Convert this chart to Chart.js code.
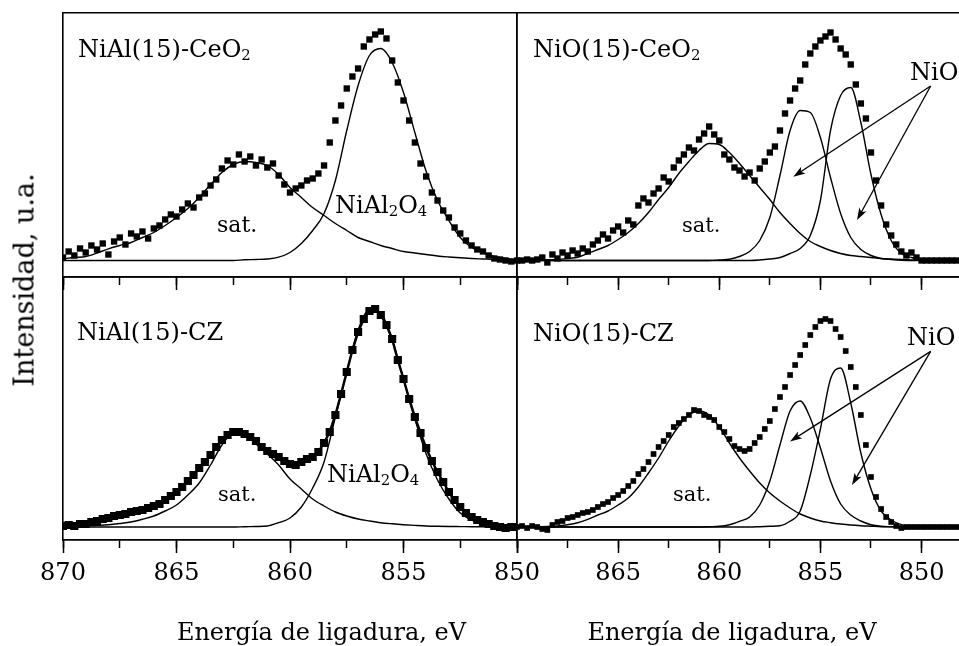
<!DOCTYPE html>
<html>
<head>
<meta charset="utf-8">
<script src="https://cdn.jsdelivr.net/npm/chart.js@4.4.0/dist/chart.umd.min.js"></script>
<style>
  html, body { margin: 0; padding: 0; background: #fff; overflow: hidden; }
  #wrap { position: relative; width: 959px; height: 646px; overflow: hidden;
          font-family: "DejaVu Serif", serif; color: #000; }
  #wrap canvas { position: absolute; left: 0; top: 0; }
  .lbl { position: absolute; white-space: nowrap; line-height: 1; }
  .lbl sub { font-size: 0.62em; vertical-align: baseline; position: relative; top: 0.22em; }
</style>
</head>
<body>
<div id="wrap">
  <canvas id="tl" width="959" height="646"></canvas>
  <canvas id="tr" width="975" height="646"></canvas>
  <canvas id="bl" width="959" height="646"></canvas>
  <canvas id="br" width="975" height="646"></canvas>
</div>
<script>
// ===== DATA =====
// binding energy grid of the measured spectra (eV), 0.25 eV steps
const energy = [
  870, 869.75, 869.5, 869.25, 869, 868.75, 868.5, 868.25, 868, 867.75,
  867.5, 867.25, 867, 866.75, 866.5, 866.25, 866, 865.75, 865.5, 865.25,
  865, 864.75, 864.5, 864.25, 864, 863.75, 863.5, 863.25, 863, 862.75,
  862.5, 862.25, 862, 861.75, 861.5, 861.25, 861, 860.75, 860.5, 860.25,
  860, 859.75, 859.5, 859.25, 859, 858.75, 858.5, 858.25, 858, 857.75,
  857.5, 857.25, 857, 856.75, 856.5, 856.25, 856, 855.75, 855.5, 855.25,
  855, 854.75, 854.5, 854.25, 854, 853.75, 853.5, 853.25, 853, 852.75,
  852.5, 852.25, 852, 851.75, 851.5, 851.25, 851, 850.75, 850.5, 850.25,
  850, 849.75, 849.5, 849.25, 849, 848.75, 848.5, 848.25, 848
];

// energy grid of the fitted components (eV), 0.5 eV steps
const fitEnergy = [
  870, 869.5, 869, 868.5, 868, 867.5, 867, 866.5, 866, 865.5,
  865, 864.5, 864, 863.5, 863, 862.5, 862, 861.5, 861, 860.5,
  860, 859.5, 859, 858.5, 858, 857.5, 857, 856.5, 856, 855.5,
  855, 854.5, 854, 853.5, 853, 852.5, 852, 851.5, 851, 850.5,
  850, 849.5, 849, 848.5, 848
];

// NiAl(15)-CeO2 (top left)
const niAlCeO2Counts = [
  3, 9, 5, 12, 8, 15, 11, 17, 6, 19,
  23, 16, 27, 24, 29, 22, 32, 35, 41, 46,
  44, 51, 57, 53, 63, 67, 75, 81, 92, 100,
  96, 106, 99, 104, 95, 101, 93, 97, 85, 76,
  68, 72, 75, 80, 82, 87, 95, 118, 140, 155,
  172, 184, 192, 214, 221, 226, 229, 222, 200, 178,
  160, 140, 118, 97, 84, 68, 60, 50, 43, 33,
  27, 20, 15, 11, 9, 5, 2, 1, 0, -1,
  0
];
const niAlCeO2Sat = [
  1.7, 3, 4, 7.5, 11.7, 15, 18, 23, 28, 35,
  43, 52, 63, 76, 88, 96, 99, 98, 95, 86,
  73, 63, 53, 45, 37, 30, 23, 19, 15, 12,
  9, 7.5, 6, 4.5, 3.5, 2.7, 2, 1.5, 1, 0.7,
  0.5
];
const niAlCeO2Spinel = [
  0, 0, 0, 0, 0, 0, 0, 0, 0, 0,
  0, 0, 0, 0, 0, 0, 0.7, 1, 1.5, 3.3,
  8, 17, 30, 47, 80, 130, 175, 205, 212, 198,
  168, 128, 89, 60, 40, 23, 13, 8, 4, 2,
  0.7
];

// NiO(15)-CeO2 (top right)
const niOCeO2Counts = [
  0, 0, 1, 0, 1, 3, -2, 6, 2, 8,
  5, 10, 7, 12, 9, 16, 20, 26, 22, 30,
  34, 28, 40, 36, 55, 62, 58, 67, 72, 83,
  79, 93, 100, 106, 113, 110, 121, 127, 134, 126,
  120, 106, 101, 93, 90, 84, 88, 80, 92, 99,
  108, 114, 130, 147, 160, 172, 180, 196, 207, 214,
  220, 224, 228, 221, 212, 206, 196, 176, 157, 142,
  108, 80, 55, 36, 25, 16, 9, 5, 8, 3,
  0, 0, 0, 0, 0, 0, 0, 0, 0
];
const niOCeO2Sat = [
  0.3, 0.4, 0.5, 0.7, 1, 2, 3.3, 7, 11, 15,
  21, 28, 37, 48, 61, 73, 87, 99, 110, 117,
  116, 108, 97, 85, 73, 61, 48, 37, 27, 19,
  14, 10, 7, 5, 4, 3, 2, 1.5, 1, 0.6,
  0.3, 0.2, 0.1, 0, 0
];
const niOCeO2PeakA = [
  0, 0, 0, 0, 0, 0, 0, 0, 0, 0,
  0, 0, 0, 0, 0, 0, 0, 0, 0, 0,
  0.5, 1.3, 4, 9, 20, 43, 85, 130, 150, 148,
  123, 83, 47, 23, 11, 5, 2, 1, 0.3, 0,
  0, 0, 0, 0, 0
];
const niOCeO2PeakB = [
  0, 0, 0, 0, 0, 0, 0, 0, 0, 0,
  0, 0, 0, 0, 0, 0, 0, 0, 0, 0,
  0, 0, 0, 0, 0.5, 1.5, 3, 7, 12, 25,
  60, 130, 165, 173, 138, 86, 46, 20, 7, 3,
  0.7, 0.2, 0, 0, 0
];

// NiAl(15)-CZ (bottom left)
const niAlCZCounts = [
  1, 2, 1, 3, 3, 5, 6, 8, 9, 11,
  12, 13, 15, 16, 17, 19, 21, 23, 27, 31,
  35, 40, 46, 52, 59, 65, 72, 80, 87, 92,
  95, 95, 93, 90, 86, 80, 76, 73, 70, 66,
  63, 62, 65, 68, 70, 75, 84, 95, 112, 133,
  155, 177, 195, 208, 216, 218, 212, 202, 188, 167,
  148, 128, 110, 94, 79, 66, 55, 45, 35, 27,
  20, 14, 10, 7, 5, 3, 1, 0, -1, 0,
  0
];
const niAlCZSat = [
  0.5, 0.8, 1, 1.6, 2.3, 3.5, 5, 7.7, 11, 16,
  22, 32, 44, 62, 82, 93, 92, 83, 73, 62,
  48, 38, 28, 21, 15, 11, 8, 6, 4.3, 3.2,
  2.3, 1.6, 1, 0.7, 0.5, 0.4, 0.3, 0.2, 0.1, 0,
  0
];
const niAlCZSpinel = [
  0, 0, 0, 0, 0, 0, 0, 0, 0, 0,
  0, 0, 0, 0, 0, 0, 0.3, 0.5, 1, 4.3,
  9, 20, 39, 65, 110, 155, 197, 217, 214, 187,
  148, 108, 73, 47, 28, 14, 7, 3.3, 1.7, 1,
  0.5
];

// NiO(15)-CZ (bottom right)
const niOCZCounts = [
  0, 1, -1, 1, 0, -2, -3, 2, 5, 6,
  9, 10, 12, 14, 15, 17, 20, 23, 25, 29,
  32, 36, 41, 46, 53, 58, 65, 73, 80, 86,
  92, 100, 104, 108, 112, 117, 116, 112, 110, 107,
  100, 95, 88, 81, 78, 76, 78, 84, 90, 98,
  106, 118, 130, 140, 152, 162, 172, 182, 192, 200,
  206, 208, 206, 198, 190, 176, 160, 140, 112, 82,
  50, 30, 18, 10, 5, 1, -1, 0, 0, 0,
  0, 0, 0, 0, 0, 0, 0, 0, 0
];
const niOCZSat = [
  0, 0.2, 0.3, 0.6, 1, 2.3, 4.3, 7.7, 12, 16,
  22, 29, 40, 54, 69, 86, 101, 112, 116, 112,
  100, 84, 69, 56, 44, 34, 26, 19, 13, 9,
  6, 4.3, 3, 2, 1.3, 0.8, 0.3, 0.2, 0.1, 0,
  0, 0, 0, 0, 0
];
const niOCZPeakA = [
  0, 0, 0, 0, 0, 0, 0, 0, 0, 0,
  0, 0, 0, 0, 0, 0, 0, 0, 0, 0.3,
  0.7, 2.3, 5.7, 10, 22, 46, 82, 116, 126, 109,
  79, 46, 23, 12, 6, 2.3, 0.7, 0.3, 0, 0,
  0, 0, 0, 0, 0
];
const niOCZPeakB = [
  0, 0, 0, 0, 0, 0, 0, 0, 0, 0,
  0, 0, 0, 0, 0, 0, 0, 0, 0, 0,
  0, 0, 0, 0, 0.3, 0.7, 1.3, 5.7, 16, 52,
  98, 148, 159, 124, 74, 38, 16, 7, 2.3, 0.7,
  0.2, 0, 0, 0, 0
];

// tick labels shown under each bottom panel
const leftTickLabels = [870, 865, 860, 855, 850];
const rightTickLabels = [865, 860, 855, 850];


// ================= HELPERS =================
const black = "#000";
const serif = '"DejaVu Serif", "Liberation Serif", serif';

function toPoints(xs, ys) {
    return ys.map((y, i) => ({ x: xs[i], y: y }));
}

const fixedHeight = h => scale => { scale.height = h; };
const noWidth = scale => { scale.width = 0; };

// arrows pointing from the "NiO" label to both NiO components
const arrowPlugin = {
    id: "arrows",
    afterDatasetsDraw(chart, args, opts) {
        if (!opts || !opts.from) return;

        const ctx = chart.ctx;
        const xs = chart.scales.x;
        const ys = chart.scales.y;
        const x0 = xs.getPixelForValue(opts.from[0]);
        const y0 = ys.getPixelForValue(opts.from[1]);

        ctx.save();
        ctx.strokeStyle = black;
        ctx.fillStyle = black;
        ctx.lineWidth = 1.3;

        opts.to.forEach(t => {
            const x1 = xs.getPixelForValue(t[0]);
            const y1 = ys.getPixelForValue(t[1]);
            const a = Math.atan2(y1 - y0, x1 - x0);
            const c = Math.cos(a), s = Math.sin(a);

            ctx.beginPath();
            ctx.moveTo(x0, y0);
            ctx.lineTo(x1 - 8 * c, y1 - 8 * s);
            ctx.stroke();

            ctx.beginPath();
            ctx.moveTo(x1, y1);
            ctx.lineTo(x1 - 12 * c + 4 * s, y1 - 12 * s - 4 * c);
            ctx.lineTo(x1 - 9 * c, y1 - 9 * s);
            ctx.lineTo(x1 - 12 * c - 4 * s, y1 - 12 * s + 4 * c);
            ctx.closePath();
            ctx.fill();
        });

        ctx.restore();
    }
};

function renderPanel(id, cfg) {

    const frame = { color: black, width: 1.6 };
    const labelled = cfg.labels.length > 0;
    // the labelled axis keeps a real box so its labels are not clipped away
    const axisBox = labelled ? 60 : 0;

    const datasets = [{
        data: toPoints(energy, cfg.counts),
        pointStyle: "rect",
        pointRadius: cfg.radius,
        backgroundColor: black,
        borderColor: black,
        borderWidth: cfg.chain || 0,
        showLine: !!cfg.chain
    }];

    cfg.fits.forEach(f => {
        datasets.push({
            data: toPoints(fitEnergy, f),
            showLine: true,
            borderColor: black,
            borderWidth: 1.4,
            pointRadius: 0,
            cubicInterpolationMode: "monotone",
            fill: false
        });
    });

    const pad = Object.assign({}, cfg.pad);
    pad.bottom -= axisBox;

    new Chart(document.getElementById(id), {
        type: "scatter",
        data: { datasets: datasets },
        options: {
            responsive: false,
            animation: false,
            events: [],
            layout: { padding: pad },
            plugins: {
                legend: { display: false },
                tooltip: { enabled: false },
                arrows: cfg.arrows || {}
            },
            scales: {
                x: {
                    type: "linear",
                    position: "bottom",
                    weight: 1,
                    reverse: true,
                    min: cfg.xMin,
                    max: 870,
                    afterFit: fixedHeight(axisBox),
                    ticks: {
                        stepSize: 5,
                        includeBounds: false,
                        autoSkip: false,
                        maxRotation: 0,
                        padding: 6,
                        display: labelled,
                        color: black,
                        font: { family: serif, size: 24 },
                        callback: v => cfg.labels.includes(v) ? String(v) : ""
                    },
                    grid: { drawOnChartArea: false, tickLength: 13, tickWidth: 1.5, tickColor: black },
                    border: frame
                },
                xMinor: {
                    type: "linear",
                    position: "bottom",
                    weight: 0,
                    reverse: true,
                    min: cfg.xMin,
                    max: 870,
                    afterFit: fixedHeight(0),
                    ticks: { stepSize: 2.5, includeBounds: false, autoSkip: false, display: false },
                    grid: { drawOnChartArea: false, tickLength: 8, tickWidth: 1.5, tickColor: black },
                    border: frame
                },
                xTop: {
                    type: "linear",
                    position: "top",
                    min: 0,
                    max: 1,
                    afterFit: fixedHeight(0),
                    ticks: { display: false },
                    grid: { display: false },
                    border: frame
                },
                y: {
                    type: "linear",
                    position: "left",
                    min: cfg.yMin,
                    max: cfg.yMax,
                    afterFit: noWidth,
                    ticks: { display: false },
                    grid: { display: false },
                    border: frame
                },
                yRight: {
                    type: "linear",
                    position: "right",
                    min: 0,
                    max: 1,
                    afterFit: noWidth,
                    ticks: { display: false },
                    grid: { display: false },
                    border: frame
                }
            }
        },
        plugins: [arrowPlugin]
    });
}


// ================= PANELS =================
renderPanel("tl", {
    counts: niAlCeO2Counts,
    fits: [niAlCeO2Sat, niAlCeO2Spinel],
    radius: 4.5,
    xMin: 850,
    yMin: -16.5, yMax: 247.5,
    labels: [],
    pad: { left: 63, top: 13, right: 442, bottom: 369 }
});

renderPanel("tr", {
    counts: niOCeO2Counts,
    fits: [niOCeO2Sat, niOCeO2PeakA, niOCeO2PeakB],
    radius: 4.5,
    xMin: 848,
    yMin: -16.5, yMax: 247.5,
    labels: [],
    pad: { left: 517, top: 13, right: 13, bottom: 369 },
    arrows: { from: [849.55, 174.5], to: [[856.34, 83.8], [853.19, 40.5]] }
});

renderPanel("bl", {
    counts: niAlCZCounts,
    fits: [niAlCZSat, niAlCZSpinel],
    radius: 4,
    chain: 2.5,
    xMin: 850,
    yMin: -13, yMax: 250,
    labels: leftTickLabels,
    pad: { left: 63, top: 277, right: 442, bottom: 106 }
});

renderPanel("br", {
    counts: niOCZCounts,
    fits: [niOCZSat, niOCZPeakA, niOCZPeakB],
    radius: 4,
    xMin: 848,
    yMin: -13, yMax: 250,
    labels: rightTickLabels,
    pad: { left: 517, top: 277, right: 13, bottom: 106 },
    arrows: { from: [849.55, 175.6], to: [[856.5, 85.6], [853.44, 42]] }
});


// ================= TEXT =================
// x = left edge (or centre when centred), base = text baseline, in page pixels
const notes = [
    { html: "NiAl(15)-CeO<sub>2</sub>", x: 78, base: 57, size: 24 },
    { html: "NiO(15)-CeO<sub>2</sub>", x: 533, base: 57, size: 24 },
    { html: "NiAl(15)-CZ", x: 77, base: 340, size: 24 },
    { html: "NiO(15)-CZ", x: 533, base: 341, size: 24 },
    { html: "sat.", x: 217, base: 233, size: 22 },
    { html: "sat.", x: 682, base: 233, size: 21 },
    { html: "sat.", x: 218, base: 502, size: 21 },
    { html: "sat.", x: 673, base: 502, size: 21 },
    { html: "NiAl<sub>2</sub>O<sub>4</sub>", x: 335, base: 213, size: 24 },
    { html: "NiAl<sub>2</sub>O<sub>4</sub>", x: 327, base: 482, size: 24 },
    { html: "NiO", x: 910, base: 80, size: 24 },
    { html: "NiO", x: 907, base: 345, size: 24 },
    { html: "Energía de ligadura, eV", x: 321.5, base: 640, size: 24, center: true },
    { html: "Energía de ligadura, eV", x: 732, base: 640, size: 24, center: true }
];

const wrap = document.getElementById("wrap");

notes.forEach(n => {
    const d = document.createElement("div");
    d.className = "lbl";
    d.innerHTML = n.html;
    d.style.fontSize = n.size + "px";
    d.style.left = n.x + "px";
    d.style.top = (n.base - 0.846 * n.size) + "px";
    if (n.center) d.style.transform = "translateX(-50%)";
    wrap.appendChild(d);
});

// vertical axis title, centred on the whole figure height
const yTitle = document.createElement("div");
yTitle.className = "lbl";
yTitle.textContent = "Intensidad, u.a.";
yTitle.style.fontSize = "27px";
yTitle.style.left = (33 - 0.346 * 27) + "px";
yTitle.style.top = "280px";
yTitle.style.transform = "translate(-50%, -50%) rotate(-90deg)";
wrap.appendChild(yTitle);
</script>
</body>
</html>
